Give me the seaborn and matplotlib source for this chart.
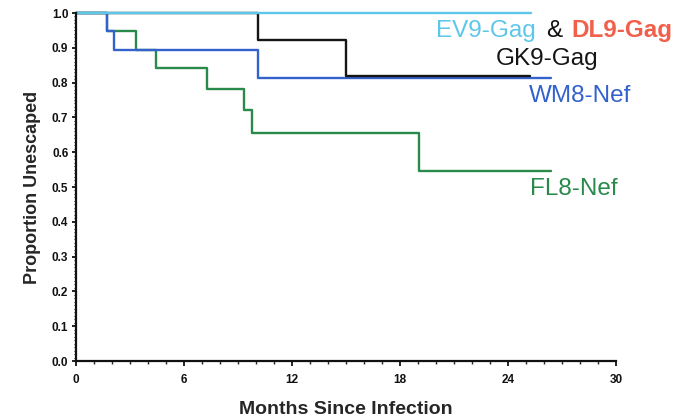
import matplotlib
matplotlib.use("Agg")
import matplotlib.pyplot as plt
from matplotlib.ticker import MultipleLocator, FormatStrFormatter
import numpy as np
import pandas as pd
import seaborn as sns

# Kaplan-Meier style escape curves: step times (months) and proportion unescaped
fl8_months = [0, 1.7, 3.35, 4.45, 7.25, 9.35, 9.8, 19.05, 26.4]
fl8_surv = [1.0, 0.947, 0.895, 0.842, 0.783, 0.721, 0.656, 0.547, 0.547]

wm8_months = [0, 1.7, 2.1, 10.1, 26.4]
wm8_surv = [1.0, 0.947, 0.895, 0.814, 0.814]

gk9_months = [0, 10.1, 15.0, 25.2]
gk9_surv = [1.0, 0.923, 0.82, 0.82]

ev9_months = [0, 25.3]
ev9_surv = [1.0, 1.0]

epitopes = ["FL8-Nef", "WM8-Nef", "GK9-Gag", "EV9-Gag"]
colors = {"FL8-Nef": "#2A8A4C", "WM8-Nef": "#3362CC",
          "GK9-Gag": "#151515", "EV9-Gag": "#5EC6E8"}
dl9_color = "#F0604A"

frames = []
for name, t, s in [("FL8-Nef", fl8_months, fl8_surv),
                   ("WM8-Nef", wm8_months, wm8_surv),
                   ("GK9-Gag", gk9_months, gk9_surv),
                   ("EV9-Gag", ev9_months, ev9_surv)]:
    frames.append(pd.DataFrame({"months": t, "surv": s, "epitope": name}))
df = pd.concat(frames, ignore_index=True)

sns.set_style("ticks")
plt.rcParams["font.family"] = ["Liberation Sans", "DejaVu Sans"]

fig = plt.figure(figsize=(6.98, 4.19), dpi=100)
ax = fig.add_axes([76 / 698, 1 - 361 / 419, 540 / 698, 348 / 419])

sns.lineplot(data=df, x="months", y="surv", hue="epitope",
             hue_order=epitopes, palette=colors, estimator=None,
             sort=False, drawstyle="steps-post", linewidth=1.7,
             legend=False, ax=ax)
for line in ax.get_lines():
    line.set_clip_on(False)

ax.set_xlim(0, 30)
ax.set_ylim(0, 1.0)
ax.xaxis.set_major_locator(MultipleLocator(6))
ax.xaxis.set_minor_locator(MultipleLocator(1))
ax.yaxis.set_major_locator(MultipleLocator(0.1))
ax.yaxis.set_minor_locator(MultipleLocator(0.01))
ax.yaxis.set_major_formatter(FormatStrFormatter("%.1f"))

for side in ("top", "right"):
    ax.spines[side].set_visible(False)
for side in ("left", "bottom"):
    ax.spines[side].set_linewidth(1.6)
    ax.spines[side].set_color("#111111")

ax.tick_params(axis="x", which="major", length=3.5, width=1.3, pad=6,
               labelsize=8.5, colors="#111111")
ax.tick_params(axis="x", which="minor", length=2, width=1.0)
ax.tick_params(axis="y", which="major", length=3, width=1.3, pad=2.5,
               labelsize=8.5, colors="#111111")
ax.tick_params(axis="y", which="minor", length=1.5, width=0.8)
for lab in ax.get_xticklabels() + ax.get_yticklabels():
    lab.set_fontweight("bold")

ax.set_xlabel("Months Since Infection", fontsize=14, fontweight="bold",
              labelpad=11)
ax.set_ylabel("Proportion Unescaped", fontsize=13, fontweight="bold",
              labelpad=8)

# Curve labels
fs = 17.5
ax.text(20.0, 0.932, "EV9-Gag", color=colors["EV9-Gag"], fontsize=fs,
        ha="left", va="baseline", clip_on=False)
ax.text(26.1, 0.932, "&", color="#111111", fontsize=fs,
        ha="left", va="baseline", clip_on=False)
ax.text(27.5, 0.932, "DL9-Gag", color=dl9_color, fontsize=fs,
        fontweight="bold", ha="left", va="baseline", clip_on=False)
ax.text(23.3, 0.851, "GK9-Gag", color=colors["GK9-Gag"], fontsize=fs,
        ha="left", va="baseline", clip_on=False)
ax.text(25.15, 0.745, "WM8-Nef", color=colors["WM8-Nef"], fontsize=fs,
        ha="left", va="baseline", clip_on=False)
ax.text(25.25, 0.477, "FL8-Nef", color=colors["FL8-Nef"], fontsize=fs,
        ha="left", va="baseline", clip_on=False)

fig.savefig("out.png", dpi=100, facecolor="white")
